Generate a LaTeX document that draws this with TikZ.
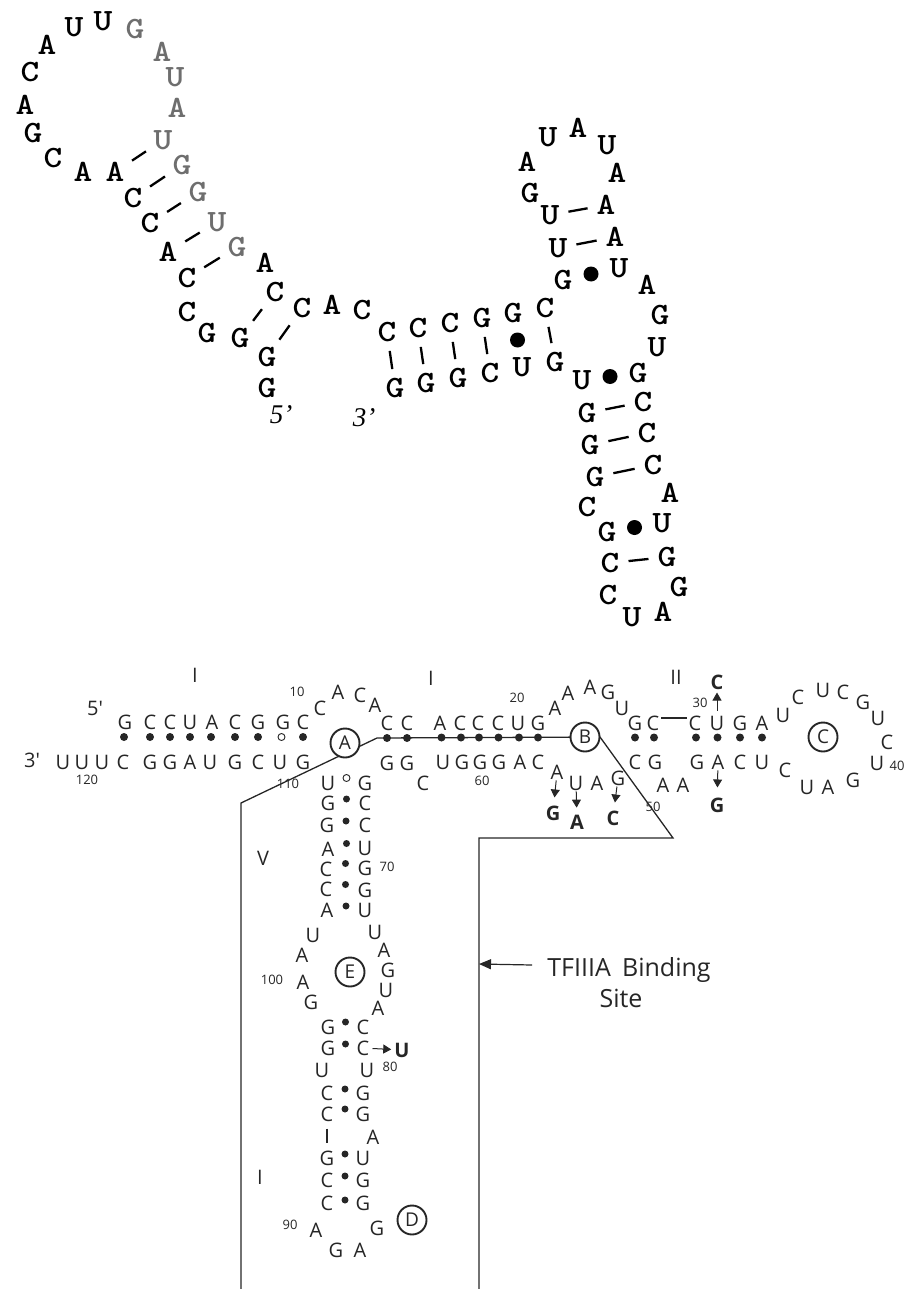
\documentclass[tikz,border=0pt]{standalone}
\usepackage{fontspec}
\newfontfamily\topf{lmmonolt10-bold.otf}[FakeStretch=1.15]
\newfontfamily\sansf{Open Sans}
\newfontfamily\serf{Liberation Serif}
\usetikzlibrary{arrows.meta,calc}
\definecolor{ink}{HTML}{262626}
\definecolor{pale}{HTML}{6E6E6E}
\begin{document}
\begin{tikzpicture}[x=1pt,y=-1pt,
  tl/.style={font=\topf\fontsize{31}{31}\selectfont, inner sep=0pt, text=black},
  tg/.style={tl, text=pale},
  tp/.style={line width=2.3pt, shorten <=9pt, shorten >=9pt},
  tdot/.style={circle, fill=black, inner sep=0pt, minimum size=15pt},
  ends/.style={font=\serf\itshape\fontsize{27}{27}\selectfont, inner sep=0pt},
  bl/.style={font=\sansf\fontsize{20}{20}\selectfont, inner sep=0pt, text=ink},
  bb/.style={font=\sansf\bfseries\fontsize{20}{20}\selectfont, inner sep=0pt, text=ink},
  num/.style={font=\sansf\fontsize{13}{13}\selectfont, inner sep=0pt, text=ink},
  bdot/.style={circle, fill=ink, inner sep=0pt, minimum size=8pt},
  sdot/.style={circle, fill=ink, inner sep=0pt, minimum size=7pt},
  odot/.style={circle, draw=ink, line width=0.9pt, fill=white, inner sep=0pt, minimum size=7pt},
  ring/.style={circle, draw=ink, line width=1.9pt, fill=white, inner sep=0pt, minimum size=29pt, font=\sansf\fontsize{19}{19}\selectfont, text=ink},
  mut/.style={draw=ink, line width=1pt, -{Triangle[length=8pt,width=9pt]}, shorten <=1pt, shorten >=8pt},
  site/.style={draw=ink, line width=1.3pt},
  bbar/.style={draw=ink, line width=1.6pt},
  lab/.style={font=\sansf\fontsize{25}{25}\selectfont, inner sep=0pt, text=ink, anchor=base}
]
\useasboundingbox (0,0) rectangle (908,1289);

% ---------------- top structure ----------------
\node[tl] (g1) at (267,388) {G};
\node[tl] (g2) at (267,357) {G};
\node[tl] (g3) at (240,338) {G};
\node[tl] (g4) at (207,333) {G};
\node[tl] (g5) at (187,312) {C};
\node[tl] (g6) at (187,278) {C};
\node[tl] (g7) at (168,252) {A};
\node[tl] (g8) at (150,223) {C};
\node[tl] (g9) at (133,198) {C};
\node[tl] (g10) at (115,172) {A};
\node[tl] (g11) at (83,172) {A};
\node[tl] (g12) at (53,158) {C};
\node[tl] (g13) at (33,133) {G};
\node[tl] (g14) at (25,105) {A};
\node[tl] (g15) at (30,72) {C};
\node[tl] (g16) at (47,45) {A};
\node[tl] (g17) at (74,27) {U};
\node[tl] (g18) at (103,21) {U};
\node[tg] (g19) at (135,29) {G};
\node[tg] (g20) at (162,52) {A};
\node[tg] (g21) at (175,77) {U};
\node[tg] (g22) at (177,108) {A};
\node[tg] (g23) at (163,140) {U};
\node[tg] (g24) at (182,165) {G};
\node[tg] (g25) at (198,192) {G};
\node[tg] (g26) at (217,222) {U};
\node[tg] (g27) at (237,247) {G};
\node[tl] (g28) at (265,263) {A};
\node[tl] (g29) at (275,292) {C};
\node[tl] (g30) at (302,308) {C};
\node[tl] (g31) at (332,305) {A};
\node[tl] (g32) at (362,310) {C};
\node[tl] (g33) at (387,332) {C};
\node[tl] (g34) at (418,328) {C};
\node[tl] (g35) at (450,323) {C};
\node[tl] (g36) at (482,318) {G};
\node[tl] (g37) at (513,313) {G};
\node[tl] (g38) at (545,308) {C};
\node[tl] (g39) at (563,280) {G};
\node[tl] (g40) at (558,248) {U};
\node[tl] (g41) at (550,215) {U};
\node[tl] (g42) at (530,193) {G};
\node[tl] (g43) at (527,162) {A};
\node[tl] (g44) at (548,137) {U};
\node[tl] (g45) at (578,128) {A};
\node[tl] (g46) at (607,145) {U};
\node[tl] (g47) at (617,173) {A};
\node[tl] (g48) at (606,205) {A};
\node[tl] (g49) at (615,237) {A};
\node[tl] (g50) at (619,268) {U};
\node[tl] (g51) at (647,285) {A};
\node[tl] (g52) at (660,315) {G};
\node[tl] (g53) at (657,347) {U};
\node[tl] (g54) at (638,373) {G};
\node[tl] (g55) at (643,402) {C};
\node[tl] (g56) at (647,433) {C};
\node[tl] (g57) at (653,465) {C};
\node[tl] (g58) at (670,493) {A};
\node[tl] (g59) at (662,523) {U};
\node[tl] (g60) at (667,557) {G};
\node[tl] (g61) at (679,587) {G};
\node[tl] (g62) at (663,612) {A};
\node[tl] (g63) at (632,617) {U};
\node[tl] (g64) at (608,595) {C};
\node[tl] (g65) at (610,563) {C};
\node[tl] (g66) at (607,532) {G};
\node[tl] (g67) at (587,507) {C};
\node[tl] (g68) at (595,477) {G};
\node[tl] (g69) at (590,445) {G};
\node[tl] (g70) at (587,413) {G};
\node[tl] (g71) at (582,380) {U};
\node[tl] (g72) at (555,362) {G};
\node[tl] (g73) at (522,367) {U};
\node[tl] (g74) at (490,373) {C};
\node[tl] (g75) at (458,378) {G};
\node[tl] (g76) at (426,383) {G};
\node[tl] (g77) at (395,388) {G};
\node[ends] (e5) at (281,415) {5’};
\node[ends] (e3) at (364,418) {3’};

% pairs (top)
\draw[tp] (g10) -- (g23);
\draw[tp] (g9) -- (g24);
\draw[tp] (g8) -- (g25);
\draw[tp] (g7) -- (g26);
\draw[tp] (g6) -- (g27);
\draw[tp] (g3) -- (g29);
\draw[tp] (g2) -- (g30);
\draw[tp] (g33) -- (g77);
\draw[tp] (g34) -- (g76);
\draw[tp] (g35) -- (g75);
\draw[tp] (g36) -- (g74);
\draw[tp] (g38) -- (g72);
\draw[tp] (g40) -- (g49);
\draw[tp] (g41) -- (g48);
\draw[tp] (g70) -- (g55);
\draw[tp] (g69) -- (g56);
\draw[tp] (g68) -- (g57);
\draw[tp] (g65) -- (g60);
\node[tdot] (q1) at ($(g37)!0.5!(g73)$) {};
\node[tdot] (q2) at ($(g39)!0.5!(g50)$) {};
\node[tdot] (q3) at ($(g71)!0.5!(g54)$) {};
\node[tdot] (q4) at ($(g66)!0.5!(g59)$) {};

% ---------------- TFIIIA binding site outline ----------------
\coordinate (s1) at (241,1289);
\coordinate (s2) at (241,803);
\coordinate (s3) at (377,738);
\coordinate (s4) at (600,737);
\coordinate (s5) at (673,838);
\coordinate (s6) at (479,838);
\coordinate (s7) at (479,1289);
\draw[site] (s1) -- (s2) -- (s3) -- (s4) -- (s5) -- (s6) -- (s7);

% ---------------- bottom structure ----------------
\node[bl] (e5b) at (95,708) {5'};
\node[bl] (e3b) at (32,760) {3'};
\node[bl] (b1) at (125,722) {G};
\node[bl] (b2) at (150,722) {C};
\node[bl] (b3) at (170,722) {C};
\node[bl] (b4) at (190,722) {U};
\node[bl] (b5) at (212,722) {A};
\node[bl] (b6) at (235,722) {C};
\node[bl] (b7) at (258,722) {G};
\node[bl] (b8) at (283,722) {G};
\node[bl] (b9) at (303,722) {C};
\node[bl] (b10) at (320,708) {C};
\node[bl] (b11) at (338,692) {A};
\node[bl] (b12) at (360,695) {C};
\node[bl] (b13) at (375,705) {A};
\node[bl] (b14) at (387,723) {C};
\node[bl] (b15) at (407,723) {C};
\node[bl] (b16) at (440,723) {A};
\node[bl] (b17) at (460,723) {C};
\node[bl] (b18) at (478,723) {C};
\node[bl] (b19) at (498,723) {C};
\node[bl] (b20) at (518,723) {U};
\node[bl] (b21) at (538,723) {G};
\node[bl] (b22) at (555,708) {A};
\node[bl] (b23) at (568,693) {A};
\node[bl] (b24) at (590,687) {A};
\node[bl] (b25) at (608,692) {G};
\node[bl] (b26) at (622,708) {U};
\node[bl] (b27) at (635,723) {G};
\node[bl] (b28) at (653,723) {C};
\node[bl] (b29) at (695,723) {C};
\node[bl] (b30) at (717,723) {U};
\node[bl] (b31) at (740,723) {G};
\node[bl] (b32) at (762,723) {A};
\node[bl] (b33) at (783,715) {U};
\node[bl] (b34) at (798,697) {C};
\node[bl] (b35) at (823,690) {U};
\node[bl] (b36) at (843,692) {C};
\node[bl] (b37) at (863,702) {G};
\node[bl] (b38) at (878,718) {U};
\node[bl] (b39) at (887,742) {C};
\node[bl] (b40) at (877,763) {U};
\node[bl] (b41) at (853,780) {G};
\node[bl] (b42) at (828,787) {A};
\node[bl] (b43) at (807,787) {U};
\node[bl] (b44) at (785,770) {C};
\node[bl] (b45) at (762,762) {U};
\node[bl] (b46) at (740,762) {C};
\node[bl] (b47) at (718,762) {A};
\node[bl] (b48) at (697,762) {G};
\node[bl] (b49) at (683,785) {A};
\node[bl] (b50) at (663,785) {A};
\node[bl] (b51) at (655,762) {G};
\node[bl] (b52) at (635,762) {C};
\node[bl] (b53) at (618,778) {G};
\node[bl] (b54) at (597,783) {A};
\node[bl] (b55) at (576,783) {U};
\node[bl] (b56) at (557,772) {A};
\node[bl] (b57) at (538,762) {C};
\node[bl] (b58) at (520,762) {A};
\node[bl] (b59) at (499,762) {G};
\node[bl] (b60) at (480,762) {G};
\node[bl] (b61) at (462,762) {G};
\node[bl] (b62) at (443,762) {U};
\node[bl] (b63) at (423,783) {C};
\node[bl] (b64) at (407,763) {G};
\node[bl] (b65) at (387,763) {G};
\node[bl] (b66) at (365,783) {G};
\node[bl] (b67) at (365,803) {C};
\node[bl] (b68) at (365,825) {C};
\node[bl] (b69) at (365,848) {U};
\node[bl] (b70) at (365,868) {G};
\node[bl] (b71) at (365,890) {G};
\node[bl] (b72) at (365,910) {U};
\node[bl] (b73) at (375,932) {U};
\node[bl] (b74) at (384,950) {A};
\node[bl] (b75) at (388,970) {G};
\node[bl] (b76) at (386,990) {U};
\node[bl] (b77) at (378,1008) {A};
\node[bl] (b78) at (363,1027) {C};
\node[bl] (b79) at (363,1048) {C};
\node[bl] (b80) at (367,1070) {U};
\node[bl] (b81) at (363,1093) {G};
\node[bl] (b82) at (363,1114) {G};
\node[bl] (b83) at (373,1137) {A};
\node[bl] (b84) at (363,1158) {U};
\node[bl] (b85) at (363,1180) {G};
\node[bl] (b86) at (363,1203) {G};
\node[bl] (b87) at (377,1228) {G};
\node[bl] (b88) at (360,1250) {A};
\node[bl] (b89) at (336,1250) {G};
\node[bl] (b90) at (316,1230) {A};
\node[bl] (b91) at (327,1203) {C};
\node[bl] (b92) at (327,1180) {C};
\node[bl] (b93) at (327,1158) {G};
\node[bl] (b94) at (327,1114) {C};
\node[bl] (b95) at (327,1093) {C};
\node[bl] (b96) at (322,1070) {U};
\node[bl] (b97) at (328,1048) {G};
\node[bl] (b98) at (328,1027) {G};
\node[bl] (b99) at (311,1002) {G};
\node[bl] (b100) at (303,982) {A};
\node[bl] (b101) at (302,955) {A};
\node[bl] (b102) at (313,935) {U};
\node[bl] (b103) at (327,910) {A};
\node[bl] (b104) at (326,889) {C};
\node[bl] (b105) at (326,869) {C};
\node[bl] (b106) at (328,849) {A};
\node[bl] (b107) at (327,825) {G};
\node[bl] (b108) at (328,803) {G};
\node[bl] (b109) at (328,783) {U};
\node[bl] (b110) at (303,762) {G};
\node[bl] (b111) at (280,762) {U};
\node[bl] (b112) at (258,762) {C};
\node[bl] (b113) at (235,762) {G};
\node[bl] (b114) at (210,762) {U};
\node[bl] (b115) at (190,762) {A};
\node[bl] (b116) at (170,762) {G};
\node[bl] (b117) at (150,762) {G};
\node[bl] (b118) at (123,762) {C};
\node[bl] (b119) at (102,762) {U};
\node[bl] (b120) at (82,762) {U};
\node[bl] (b121) at (63,762) {U};

% numbers
\node[num] (n10) at (297,692) {10};
\node[num] (n20) at (517,698) {20};
\node[num] (n30) at (700,703) {30};
\node[num] (n40) at (897,766) {40};
\node[num] (n50) at (653,807) {50};
\node[num] (n60) at (482,781) {60};
\node[num] (n70) at (387,867) {70};
\node[num] (n80) at (390,1067) {80};
\node[num] (n90) at (290,1225) {90};
\node[num] (n100) at (272,980) {100};
\node[num] (n110) at (288,784) {110};
\node[num] (n120) at (87,780) {120};

% helix labels
\node[bl] (r1) at (195,675) {I};
\node[bl] (r2) at (431,678) {I};
\node[bl] (r3) at (676,677) {II};
\node[bl] (r4) at (263,858) {V};
\node[bl] (r5) at (260,1177) {I};

% base pairs: helix I
\node[bdot] (h1) at ($(b1)!0.5!(b118)+(0,-5)$) {};
\node[bdot] (h2) at ($(b2)!0.5!(b117)+(0,-5)$) {};
\node[bdot] (h3) at ($(b3)!0.5!(b116)+(0,-5)$) {};
\node[bdot] (h4) at ($(b4)!0.5!(b115)+(0,-5)$) {};
\node[bdot] (h5) at ($(b5)!0.5!(b114)+(0,-5)$) {};
\node[bdot] (h6) at ($(b6)!0.5!(b113)+(0,-5)$) {};
\node[bdot] (h7) at ($(b7)!0.5!(b112)+(0,-5)$) {};
\node[odot] (h8) at ($(b8)!0.5!(b111)+(0,-5)$) {};
\node[bdot] (h9) at ($(b9)!0.5!(b110)+(0,-5)$) {};
% helix between A and B
\node[bdot] (h10) at ($(b14)!0.5!(b65)+(0,-5)$) {};
\node[bdot] (h11) at ($(b15)!0.5!(b64)+(0,-5)$) {};
\node[bdot] (h12) at ($(b16)!0.5!(b62)+(0,-5)$) {};
\node[bdot] (h13) at ($(b17)!0.5!(b61)+(0,-5)$) {};
\node[bdot] (h14) at ($(b18)!0.5!(b60)+(0,-5)$) {};
\node[bdot] (h15) at ($(b19)!0.5!(b59)+(0,-5)$) {};
\node[bdot] (h16) at ($(b20)!0.5!(b58)+(0,-5)$) {};
\node[bdot] (h17) at ($(b21)!0.5!(b57)+(0,-5)$) {};
% helix II
\node[bdot] (h18) at ($(b27)!0.5!(b52)+(0,-5)$) {};
\node[bdot] (h19) at ($(b28)!0.5!(b51)+(0,-5)$) {};
\node[bdot] (h20) at ($(b29)!0.5!(b48)+(0,-5)$) {};
\node[bdot] (h21) at ($(b30)!0.5!(b47)+(0,-5)$) {};
\node[bdot] (h22) at ($(b31)!0.5!(b46)+(0,-5)$) {};
\node[bdot] (h23) at ($(b32)!0.5!(b45)+(0,-5)$) {};
% helix V
\node[odot] (h24) at ($(b66)!0.5!(b109)+(0,-5)$) {};
\node[sdot] (h25) at ($(b67)!0.5!(b108)+(0,-4)$) {};
\node[sdot] (h26) at ($(b68)!0.5!(b107)+(0,-4)$) {};
\node[sdot] (h27) at ($(b69)!0.5!(b106)+(0,-5)$) {};
\node[sdot] (h28) at ($(b70)!0.5!(b105)+(0,-5)$) {};
\node[sdot] (h29) at ($(b71)!0.5!(b104)+(0,-5)$) {};
\node[sdot] (h30) at ($(b72)!0.5!(b103)+(0,-4)$) {};
% helix IV
\node[sdot] (h31) at ($(b78)!0.5!(b98)+(0,-5)$) {};
\node[sdot] (h32) at ($(b79)!0.5!(b97)+(0,-4)$) {};
\node[sdot] (h33) at ($(b81)!0.5!(b95)+(0,-4)$) {};
\node[sdot] (h34) at ($(b82)!0.5!(b94)+(0,-5)$) {};
\node[sdot] (h35) at ($(b84)!0.5!(b93)+(0,-4)$) {};
\node[sdot] (h36) at ($(b85)!0.5!(b92)+(0,-4)$) {};
\node[sdot] (h37) at ($(b86)!0.5!(b91)+(0,-3)$) {};

% backbone bars
\draw[bbar, shorten <=8pt, shorten >=8pt] ([yshift=5pt]b28.center) -- ([yshift=5pt]b29.center);
\draw[bbar, shorten <=7pt, shorten >=7pt] (b94) -- (b93);

% loop circles
\node[ring] (cA) at (345,743) {A};
\node[ring] (cB) at (585,737) {B};
\node[ring] (cC) at (823,737) {C};
\node[ring] (cD) at (412,1220) {D};
\node[ring] (cE) at (350,972) {E};

% mutations
\node[bb] (m1) at (553,813) {G};
\node[bb] (m2) at (577,822) {A};
\node[bb] (m3) at (613,818) {C};
\node[bb] (m4) at (717,682) {C};
\node[bb] (m5) at (717,805) {G};
\node[bb] (m6) at (402,1050) {U};
\draw[mut] (b56) -- (m1);
\draw[mut, shorten >=7pt] (b55) -- (m2);
\draw[mut] (b53) -- (m3);
\draw[mut, shorten <=5pt, shorten >=3pt] (b30) -- (m4);
\draw[mut, shorten >=10pt] (b47) -- (m5);
\draw[mut, shorten <=3pt, shorten >=3pt] (b79) -- (m6);

% TFIIIA label
\node[lab] (tf1) at (629,976) {TFIIIA\hspace{0.45em}Binding};
\node[lab] (tf2) at (621,1007) {Site};
\coordinate (tip) at (479,964);
\draw[draw=ink, line width=1.2pt, -{Triangle[length=12pt,width=10pt]}] ($(tf1.base west)+(-15,-11)$) -- (tip);
\end{tikzpicture}
\end{document}
